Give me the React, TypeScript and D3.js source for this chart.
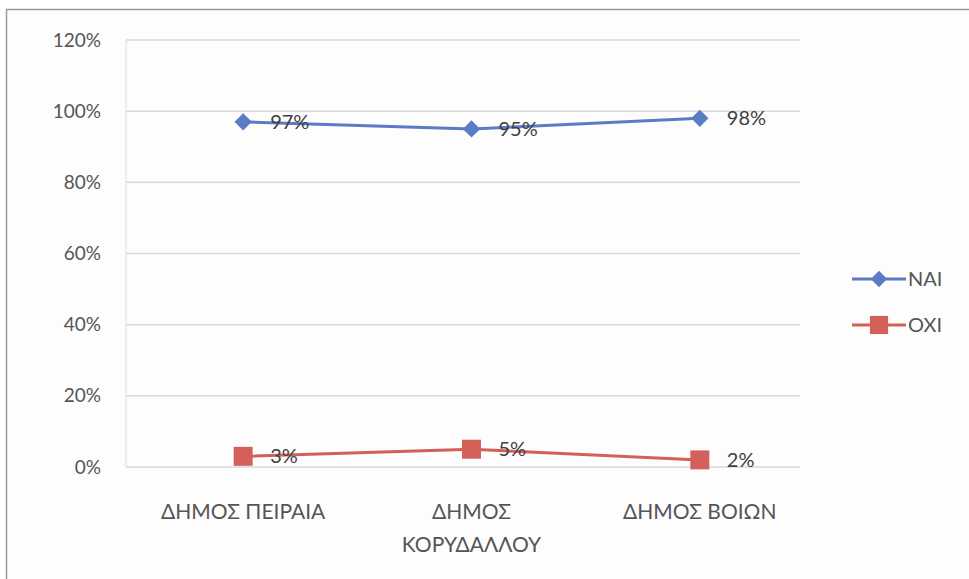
import { useEffect, useRef } from "react";
import * as d3 from "d3";

const categories = ["ΔΗΜΟΣ ΠΕΙΡΑΙΑ", "ΔΗΜΟΣ ΚΟΡΥΔΑΛΛΟΥ", "ΔΗΜΟΣ ΒΟΙΩΝ"];
const categoryLines = [["ΔΗΜΟΣ ΠΕΙΡΑΙΑ"], ["ΔΗΜΟΣ", "ΚΟΡΥΔΑΛΛΟΥ"], ["ΔΗΜΟΣ ΒΟΙΩΝ"]];
const naiValues = [0.97, 0.95, 0.98];
const oxiValues = [0.03, 0.05, 0.02];
const seriesNames = ["ΝΑΙ", "ΌΧΙ"];
const yTicks = [0, 0.2, 0.4, 0.6, 0.8, 1.0, 1.2];

const width = 969;
const height = 579;
const blue = "#5b7bc4";
const red = "#d4605a";

export default function App() {
  const ref = useRef<SVGSVGElement>(null);

  useEffect(() => {
    const svg = d3.select(ref.current);
    svg.selectAll("*").remove();

    const font = "Lato, 'Open Sans', sans-serif";

    // chart frame
    svg.append("rect").attr("width", width).attr("height", height).attr("fill", "#fff");
    svg
      .append("rect")
      .attr("x", 6.5)
      .attr("y", 9.5)
      .attr("width", width)
      .attr("height", height)
      .attr("fill", "#fdfdfd")
      .attr("stroke", "#9a9a9a")
      .attr("stroke-width", 1.5);

    const x = d3.scaleBand().domain(categories).range([129, 814]);
    const y = d3.scaleLinear().domain([0, 1.2]).range([467, 40]);
    const cx = (c: string) => (x(c) as number) + x.bandwidth() / 2;

    // gridlines
    svg
      .append("g")
      .selectAll("line")
      .data(yTicks)
      .join("line")
      .attr("x1", 126)
      .attr("x2", 800)
      .attr("y1", (d) => y(d))
      .attr("y2", (d) => y(d))
      .attr("stroke", "#d9d9d9")
      .attr("stroke-width", 1.5);

    // y axis line
    svg
      .append("line")
      .attr("x1", 126)
      .attr("x2", 126)
      .attr("y1", y(1.2))
      .attr("y2", y(0))
      .attr("stroke", "#dcdcdc");

    // y tick labels
    svg
      .append("g")
      .selectAll("text")
      .data(yTicks)
      .join("text")
      .attr("x", 101)
      .attr("y", (d) => y(d))
      .attr("dy", "0.35em")
      .attr("text-anchor", "end")
      .attr("font-family", font)
      .attr("font-size", 19)
      .attr("fill", "#555")
      .text((d) => d3.format(".0%")(d));

    // category labels
    const cat = svg
      .append("g")
      .selectAll("text")
      .data(categories)
      .join("text")
      .attr("x", (d) => cx(d))
      .attr("y", 519)
      .attr("text-anchor", "middle")
      .attr("font-family", font)
      .attr("font-size", 21)
      .attr("fill", "#555");
    cat
      .selectAll("tspan")
      .data((_, i) => categoryLines[i])
      .join("tspan")
      .attr("x", function () {
        return (this.parentNode as SVGTextElement).getAttribute("x");
      })
      .attr("dy", (_, i) => (i === 0 ? 0 : 33))
      .text((d) => d);

    const line = d3
      .line<number>()
      .x((_, i) => cx(categories[i]))
      .y((d) => y(d));

    const drawSeries = (values: number[], color: string, shape: "diamond" | "square") => {
      const g = svg.append("g");
      g.append("path")
        .attr("d", line(values))
        .attr("fill", "none")
        .attr("stroke", color)
        .attr("stroke-width", 3);
      g.selectAll("path.m")
        .data(values)
        .join("path")
        .attr("class", "m")
        .attr(
          "d",
          d3
            .symbol()
            .type(shape === "diamond" ? d3.symbolDiamond2 : d3.symbolSquare)
            .size(shape === "diamond" ? 190 : 360)
        )
        .attr("transform", (d, i) => `translate(${cx(categories[i])},${y(d)})`)
        .attr("fill", color);
      g.selectAll("text")
        .data(values)
        .join("text")
        .attr("x", (_, i) => cx(categories[i]) + 27)
        .attr("y", (d) => y(d))
        .attr("dy", "0.35em")
        .attr("font-family", font)
        .attr("font-size", 20)
        .attr("fill", "#404040")
        .text((d) => d3.format(".0%")(d));
    };

    drawSeries(naiValues, blue, "diamond");
    drawSeries(oxiValues, red, "square");

    // legend
    const legend = svg.append("g");
    const items = [
      { name: seriesNames[0], color: blue, shape: d3.symbolDiamond2, size: 170, y: 279 },
      { name: seriesNames[1], color: red, shape: d3.symbolSquare, size: 330, y: 325 },
    ];
    items.forEach((it) => {
      legend
        .append("line")
        .attr("x1", 852)
        .attr("x2", 906)
        .attr("y1", it.y)
        .attr("y2", it.y)
        .attr("stroke", it.color)
        .attr("stroke-width", 3);
      legend
        .append("path")
        .attr("d", d3.symbol().type(it.shape).size(it.size))
        .attr("transform", `translate(879,${it.y})`)
        .attr("fill", it.color);
      legend
        .append("text")
        .attr("x", 908)
        .attr("y", it.y)
        .attr("dy", "0.35em")
        .attr("font-family", font)
        .attr("font-size", 20)
        .attr("fill", "#555")
        .text(it.name);
    });
  }, []);

  return (
    <div style={{ position: "fixed", left: 0, top: 0 }}>
      <svg ref={ref} width={width} height={height} />
    </div>
  );
}
